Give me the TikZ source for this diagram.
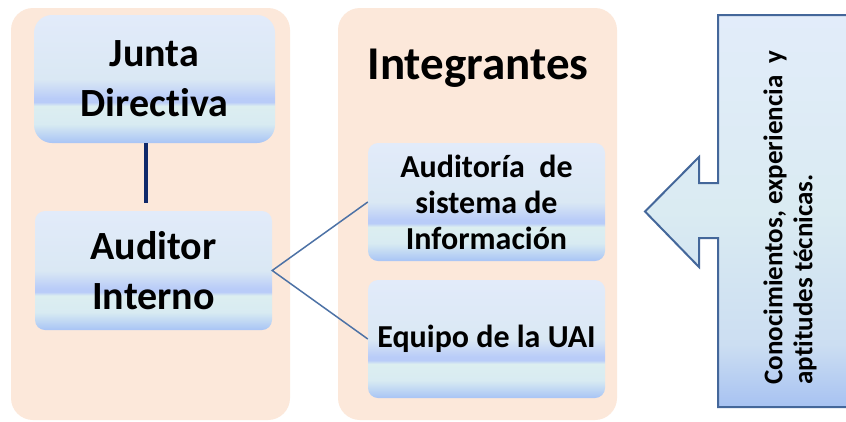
\documentclass[tikz,border=0pt]{standalone}
\usepackage{fontspec}
\setmainfont{Carlito}[Ligatures={NoCommon}]
\definecolor{panelc}{HTML}{FCE8DA}
\definecolor{bA}{HTML}{A8C4F5}
\definecolor{bB}{HTML}{D8EBF2}
\definecolor{bC}{HTML}{DCEEF0}
\definecolor{bD}{HTML}{B9CCF8}
\definecolor{bE}{HTML}{DAE8F4}
\definecolor{bF}{HTML}{E2EBFA}
\definecolor{cA}{HTML}{A7C2F2}
\definecolor{cB}{HTML}{CCDEF2}
\definecolor{cC}{HTML}{DAEBF2}
\definecolor{cD}{HTML}{E2ECFA}
\definecolor{linkc}{HTML}{4D72A6}
\definecolor{navy}{HTML}{10296A}
\definecolor{callb}{HTML}{44679A}
\pgfdeclareverticalshading{boxshade}{100bp}{color(0bp)=(bA); color(25bp)=(bA); color(32.5bp)=(bB); color(39.5bp)=(bC); color(41bp)=(bD); color(42.5bp)=(bD); color(50bp)=(bE); color(75bp)=(bF); color(100bp)=(bF)}
\pgfdeclareverticalshading{callshade}{100bp}{color(0bp)=(cA); color(25bp)=(cA); color(33bp)=(cB); color(50bp)=(cC); color(75bp)=(cD); color(100bp)=(cD)}
\begin{document}
\begin{tikzpicture}[x=1pt,y=-1pt,
  panel/.style={fill=panelc, rounded corners=22pt},
  bbox/.style={shading=boxshade, inner sep=0pt, align=center, font=\bfseries},
  link/.style={draw=linkc, line width=1.5pt}]
\useasboundingbox (0,0) rectangle (846,421);
\clip (0,0) rectangle (846,421);
\fill[white] (0,0) rectangle (846,421);
% panels
\path[panel] (11,8) rectangle (290,420);
\path[panel] (338,8) rectangle (617,420);
% boxes
\node[bbox, rounded corners=18pt, minimum width=241pt, minimum height=128pt,
  font=\bfseries\fontsize{40}{50}\selectfont] (jd) at (154.5,79) {Junta\\Directiva};
\node[bbox, rounded corners=10pt, minimum width=237pt, minimum height=119pt,
  font=\bfseries\fontsize{40}{50}\selectfont] (ai) at (153.5,270.5) {Auditor\\Interno};
\node[font=\bfseries\fontsize{47}{56}\selectfont, inner sep=0pt] (int) at (478,68) {Integrantes};
\node[bbox, rounded corners=10pt, minimum width=237pt, minimum height=118pt,
  font=\bfseries\fontsize{32}{36}\selectfont] (aud) at (486.5,202) {Auditoría\ \ de\\sistema de\\Información};
\node[bbox, rounded corners=10pt, minimum width=237pt, minimum height=118pt,
  font=\bfseries\fontsize{32}{36}\selectfont] (eq) at (486.5,339) {Equipo de la UAI};
% connectors
\draw[navy, line width=4.5pt, shorten >=8pt] ([xshift=-8.5pt]jd.south) -- ([xshift=-7.5pt]ai.north);
\draw[link] (aud.west) -- (ai.east) -- (eq.west);
% callout
\path[shading=callshade, draw=callb, line width=2pt, line join=miter]
  (718,15) -- (870,15) -- (870,407) -- (718,407) -- (718,238) -- (699,238)
  -- (699,267) -- (645,211.5) -- (699,157) -- (699,183) -- (718,183) -- cycle;
\node[rotate=90, align=left, inner sep=0pt, font=\bfseries\fontsize{27}{30}\selectfont]
  (ctext) at (790,217.5) {Conocimientos, experiencia\ \ y\\aptitudes técnicas.};
\end{tikzpicture}
\end{document}
